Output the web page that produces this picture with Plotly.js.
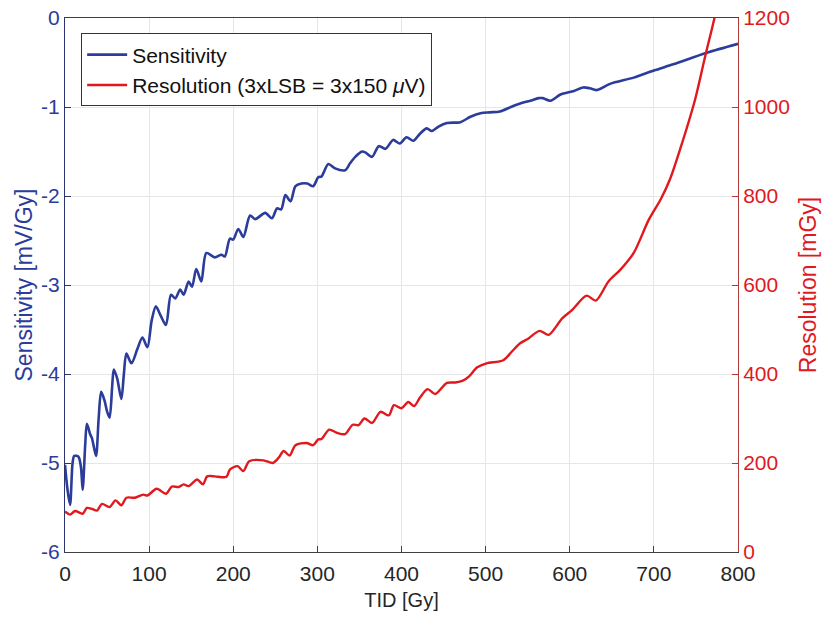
<!DOCTYPE html>
<html>
<head>
<meta charset="utf-8">
<script src="https://cdn.plot.ly/plotly-3.0.1.min.js"></script>
<style>html,body{margin:0;padding:0;background:#fff;}#chart{width:822px;height:618px;}</style>
</head>
<body>
<div id="chart"></div>
<script>
// TID [Gy] vs Sensitivity [mV/Gy]
const sensTID = [0,3,6,9,11,16,19,21,24,26,30,32,35,37,40,43,47,50,53,56,58,62,67,70,73,79,86,92,98,103,108,114,120,126,131,137,141,147,151,156,162,168,178,186,190,196,200,206,212,220,226,238,246,252,257,262,268,274,281,288,295,301,305,313,321,333,339,345,353,357,365,373,381,390,398,406,414,422,430,436,444,454,470,482,494,505,517,530,541,553,563,568,577,589,605,616,624,632,648,676,700,723,763,800];
const sensitivity = [-5.02,-5.30,-5.47,-5.0,-4.92,-4.93,-5.05,-5.30,-4.8,-4.56,-4.68,-4.72,-4.85,-4.92,-4.5,-4.20,-4.30,-4.42,-4.49,-4.15,-3.95,-4.05,-4.28,-4.0,-3.77,-3.88,-3.72,-3.59,-3.70,-3.40,-3.24,-3.35,-3.45,-3.11,-3.15,-3.05,-3.11,-2.96,-3.02,-2.82,-2.96,-2.64,-2.69,-2.66,-2.68,-2.48,-2.49,-2.37,-2.46,-2.22,-2.26,-2.19,-2.25,-2.14,-2.15,-1.99,-2.06,-1.89,-1.86,-1.86,-1.89,-1.79,-1.78,-1.64,-1.69,-1.71,-1.63,-1.56,-1.50,-1.51,-1.56,-1.44,-1.47,-1.37,-1.41,-1.34,-1.38,-1.30,-1.24,-1.27,-1.22,-1.18,-1.17,-1.11,-1.07,-1.06,-1.05,-1.00,-0.96,-0.93,-0.90,-0.90,-0.93,-0.86,-0.82,-0.78,-0.79,-0.81,-0.74,-0.67,-0.59,-0.52,-0.39,-0.29];

// TID [Gy] vs Resolution [mGy]
const resTID = [0,6,12,21,26,32,38,44,53,60,67,73,83,93,98,109,120,127,135,141,147,157,164,169,178,186,192,196,205,212,219,236,247,254,260,267,274,287,295,301,305,314,323,333,342,349,356,365,375,385,391,400,408,415,422,431,440,454,464,473,480,490,501,521,531,541,551,564,575,591,603,620,631,646,660,676,694,708,719,731,749,761,772,777];
const resolution = [91,84,92,86,99,97,93,108,101,116,105,122,122,129,127,142,131,147,146,152,148,163,152,170,170,168,169,185,193,182,204,206,200,212,227,217,240,245,240,253,254,275,268,265,286,285,300,290,315,307,330,323,337,328,347,366,355,380,381,385,394,415,424,431,450,469,480,497,488,525,544,576,565,608,634,672,747,792,837,904,1017,1114,1200,1250];

const xTicks = [0,100,200,300,400,500,600,700,800];
const leftTicks = [-6,-5,-4,-3,-2,-1,0];
const rightTicks = [0,200,400,600,800,1000,1200];

const BLUE = '#2b3c9b';
const RED = '#e0191e';
const FONT = 'Liberation Sans, Arial, sans-serif';

const traces = [
  {x: sensTID, y: sensitivity, type: 'scatter', mode: 'lines', name: 'Sensitivity',
   line: {color: BLUE, width: 2.6, shape: 'spline', smoothing: 0.8}, yaxis: 'y'},
  {x: resTID, y: resolution, type: 'scatter', mode: 'lines', name: 'Resolution (3xLSB = 3x150 <i>μ</i>V)',
   line: {color: RED, width: 2.4, shape: 'spline', smoothing: 0.8}, yaxis: 'y2'}
];

const layout = {
  width: 822, height: 618,
  margin: {l: 65, r: 84, t: 18, b: 66},
  paper_bgcolor: '#ffffff', plot_bgcolor: '#ffffff',
  font: {family: FONT, size: 20, color: '#262626'},
  showlegend: true,
  legend: {x: 0.024, y: 0.971, xanchor: 'left', yanchor: 'top',
    bgcolor: '#ffffff', bordercolor: '#333333', borderwidth: 1,
    font: {family: FONT, size: 21, color: '#111111'}, itemwidth: 40, tracegroupgap: 0},
  xaxis: {range: [0, 800], tickvals: xTicks, ticktext: xTicks.map(String),
    showgrid: true, gridcolor: '#e6e6e6', gridwidth: 1, zeroline: false,
    showline: true, linecolor: '#404040', linewidth: 1, mirror: true,
    ticks: 'inside', ticklen: 6, tickcolor: '#404040', ticklabelstandoff: 3,
    tickfont: {family: FONT, size: 21, color: '#262626'},
    title: {text: 'TID [Gy]', font: {family: FONT, size: 20, color: '#262626'}, standoff: 8}},
  yaxis: {range: [-6, 0], tickvals: leftTicks, ticktext: leftTicks.map(String),
    showgrid: true, gridcolor: '#e6e6e6', gridwidth: 1, zeroline: false,
    showline: true, linecolor: '#2b3470', linewidth: 1,
    ticks: 'inside', ticklen: 6, tickcolor: '#2b3470',
    tickfont: {family: FONT, size: 21, color: BLUE},
    title: {text: 'Sensitivity [mV/Gy]', font: {family: FONT, size: 23, color: BLUE}, standoff: 2}},
  yaxis2: {range: [0, 1200], tickvals: rightTicks, ticktext: rightTicks.map(String),
    overlaying: 'y', side: 'right', showgrid: false, zeroline: false,
    showline: true, linecolor: '#b03a3a', linewidth: 1,
    ticks: 'inside', ticklen: 6, tickcolor: '#b03a3a',
    tickfont: {family: FONT, size: 21, color: RED},
    title: {text: 'Resolution [mGy]', font: {family: FONT, size: 23, color: RED}, standoff: 10}}
};

Plotly.newPlot('chart', traces, layout, {displayModeBar: false, staticPlot: true});
</script>
</body>
</html>
